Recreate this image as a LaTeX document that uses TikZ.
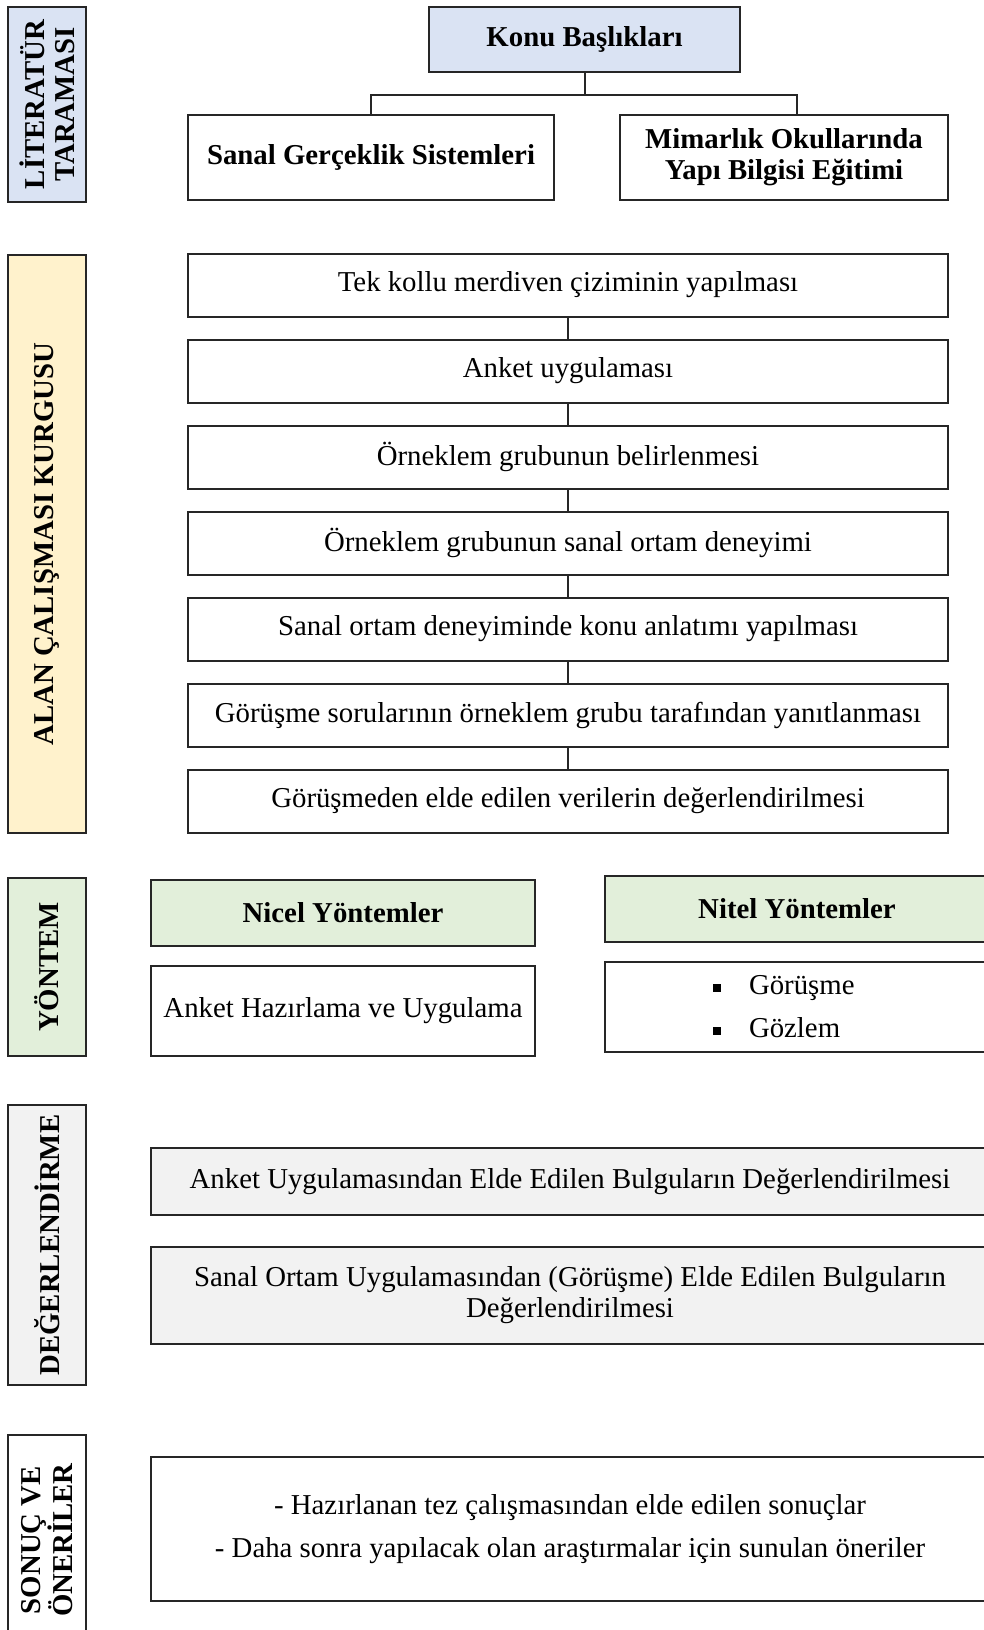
\documentclass[tikz,border=0pt]{standalone}
\usepackage{fontspec}
\setmainfont{Liberation Serif}
\definecolor{litblue}{HTML}{DAE3F3}
\definecolor{alanyellow}{HTML}{FFF2CC}
\definecolor{yontgreen}{HTML}{E2EFDA}
\definecolor{degergray}{HTML}{F2F2F2}
\newcommand{\blt}{\rule[3pt]{8pt}{8pt}\hspace{28pt}}

\begin{document}
\begin{tikzpicture}[x=1pt,y=-1pt,
    box/.style={draw=black!85, line width=2pt, fill=white, inner sep=2pt,
        align=center, font=\fontsize{28.8}{31}\selectfont},
    head/.style={box, font=\bfseries\fontsize{28.8}{31}\selectfont},
    band/.style={box, rotate=90, minimum height=78pt,
        font=\bfseries\fontsize{28.8}{30}\selectfont},
    conn/.style={draw=black!85, line width=2pt}]
    \useasboundingbox (0,0) rectangle (984,1630);

    % Side bands
    \node[band, fill=litblue, minimum width=195pt] (lit) at (47,104.5) {LİTERATÜR\\TARAMASI};
    \node[band, fill=alanyellow, minimum width=578pt] (alan) at (47,544) {ALAN ÇALIŞMASI KURGUSU};
    \node[band, fill=yontgreen, minimum width=178pt] (yontem) at (47,967) {YÖNTEM};
    \node[band, fill=degergray, minimum width=280pt] (deger) at (47,1245) {DEĞERLENDİRME};
    \node[band, minimum width=210pt, font=\bfseries\fontsize{28.8}{32}\selectfont] (oneri) at (47,1540) {SONUÇ VE\\ÖNERİLER};

    % Literature review
    \node[head, fill=litblue, minimum width=311pt, minimum height=65pt] (konu) at (584.5,39.5) {Konu Başlıkları};
    \node[head, minimum width=366pt, minimum height=85pt] (sanal) at (371,157.5) {Sanal Gerçeklik Sistemleri};
    \node[head, minimum width=328pt, minimum height=85pt] (mimar) at (784,157.5) {Mimarlık Okullarında\\Yapı Bilgisi Eğitimi};
    \draw[conn] (konu.south) -- ++(0,22) coordinate (fork);
    \draw[conn] (sanal.north) |- (fork) -| ([xshift=13pt]mimar.north);

    % Field study steps
    \foreach \txt [count=\i] in {Tek kollu merdiven çiziminin yapılması,
        Anket uygulaması,
        Örneklem grubunun belirlenmesi,
        Örneklem grubunun sanal ortam deneyimi,
        Sanal ortam deneyiminde konu anlatımı yapılması,
        Görüşme sorularının örneklem grubu tarafından yanıtlanması,
        Görüşmeden elde edilen verilerin değerlendirilmesi}
        \node[box, minimum width=760pt, minimum height=63pt] (s\i) at (568,{285+86*(\i-1)}) {\txt};
    \foreach \i [evaluate=\i as \j using int(\i+1)] in {1,...,6}
        \draw[conn] (s\i) -- (s\j);

    % Methods
    \node[head, fill=yontgreen, minimum width=384pt, minimum height=66pt] (nicel) at (343,913) {Nicel Yöntemler};
    \node[box, minimum width=384pt, minimum height=90pt] (anket) at (343,1011) {Anket Hazırlama ve Uygulama};
    \node[head, fill=yontgreen, minimum width=384pt, minimum height=66pt] (nitel) at (797,909) {Nitel Yöntemler};
    \node[box, minimum height=90pt, text width=380pt, align=left,
        font=\fontsize{28.8}{43}\selectfont] (teknik) at (797,1007)
        {\hspace*{106pt}\blt Görüşme\\\hspace*{106pt}\blt Gözlem};

    % Evaluation
    \node[box, fill=degergray, minimum width=838pt, minimum height=67pt] (bulgu1) at (570,1181.5)
        {Anket Uygulamasından Elde Edilen Bulguların Değerlendirilmesi};
    \node[box, fill=degergray, minimum width=838pt, minimum height=97pt] (bulgu2) at (570,1295.5)
        {Sanal Ortam Uygulamasından (Görüşme) Elde Edilen Bulguların\\Değerlendirilmesi};

    % Results
    \node[box, minimum width=838pt, minimum height=144pt, font=\fontsize{28.8}{43}\selectfont] (sonuc) at (570,1529)
        {- Hazırlanan tez çalışmasından elde edilen sonuçlar\\- Daha sonra yapılacak olan araştırmalar için sunulan öneriler};
\end{tikzpicture}
\end{document}
